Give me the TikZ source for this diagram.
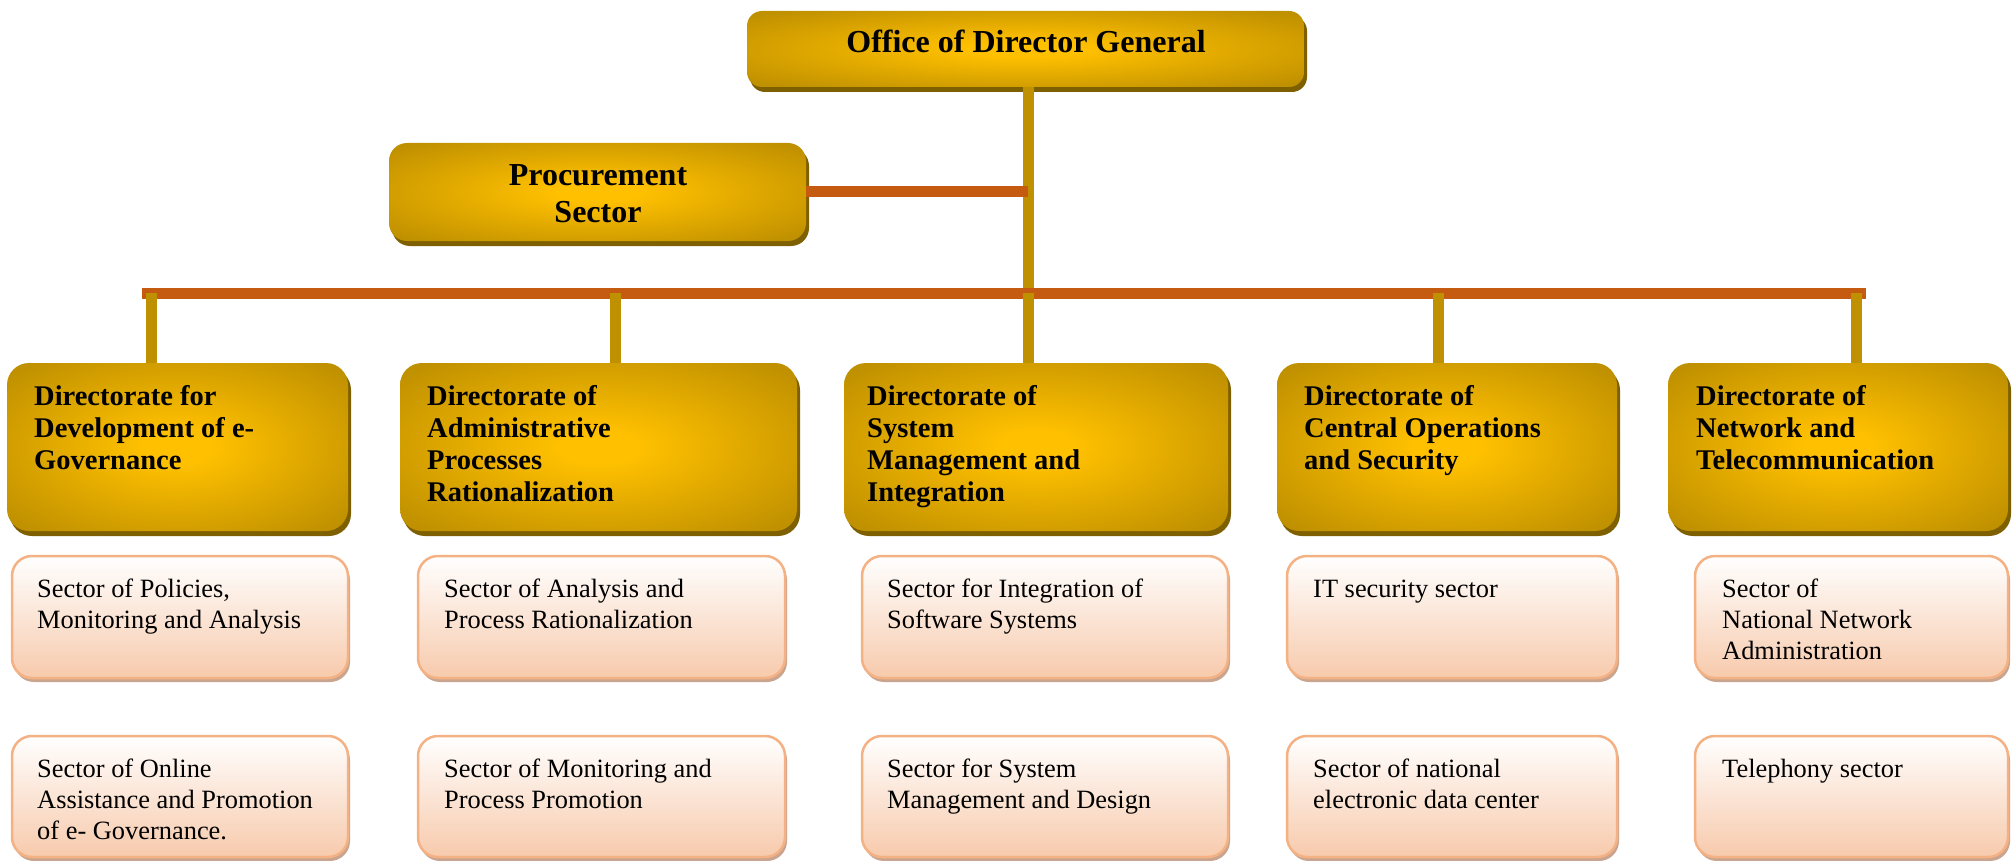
\documentclass[tikz,border=0pt]{standalone}
\usepackage{fontspec}
\setmainfont{Liberation Serif}
\usetikzlibrary{shadows}
\definecolor{goldC}{HTML}{FFC000}
\definecolor{goldE}{HTML}{BF9000}
\definecolor{goldS}{HTML}{7F6000}
\definecolor{busO}{HTML}{C55A11}
\definecolor{lineG}{HTML}{BF9000}
\definecolor{peachB}{HTML}{F4B183}
\definecolor{peachF}{HTML}{F7CAAC}
\definecolor{peachS}{HTML}{C9A48E}
\pgfdeclareradialshading{goldrad}{\pgfpoint{0bp}{0bp}}{color(0bp)=(goldC);color(5bp)=(goldC);color(33bp)=(goldE);color(100bp)=(goldE)}
\begin{document}
\begin{tikzpicture}[x=1pt,y=-1pt,
  goldbox/.style={shading=goldrad, rounded corners=#1, draw=none, inner sep=0pt, outer sep=0pt, anchor=north west,
    drop shadow={shadow xshift=3pt, shadow yshift=-5pt, fill=goldS, opacity=1}},
  goldbox/.default=22pt,
  secbox/.style={shading=axis, top color=white, bottom color=peachF, draw=peachB, line width=2.5pt,
    rounded corners=20pt, inner sep=0pt, outer sep=0pt, anchor=north west,
    drop shadow={shadow xshift=2pt, shadow yshift=-4pt, fill=peachS, opacity=1}},
  dtext/.style={anchor=north west, inner sep=0pt, align=left, font=\bfseries\fontsize{28.5}{32}\selectfont},
  stext/.style={anchor=north west, inner sep=0pt, align=left, font=\fontsize{26.4}{31}\selectfont},
  htext/.style={inner sep=0pt, align=center, font=\bfseries\fontsize{32}{37}\selectfont},
  gline/.style={draw=lineG, line width=11pt},
  oline/.style={draw=busO, line width=11pt},
]
\fill[white] (0,0) rectangle (2012,861);
\useasboundingbox (0,0) rectangle (2012,861);

% top boxes
\node[goldbox=15pt, minimum width=557pt, minimum height=76pt] (dg) at (747,11) {};
\node[goldbox=18pt, minimum width=417pt, minimum height=98pt] (proc) at (389,143) {};

% directorates
\node[goldbox, minimum width=341pt, minimum height=168pt] (d1) at (7,363) {};
\node[goldbox, minimum width=397pt, minimum height=168pt] (d2) at (400,363) {};
\node[goldbox, minimum width=384pt, minimum height=168pt] (d3) at (844,363) {};
\node[goldbox, minimum width=340pt, minimum height=168pt] (d4) at (1277,363) {};
\node[goldbox, minimum width=340pt, minimum height=168pt] (d5) at (1668,363) {};

% sectors row 1
\node[secbox, minimum width=336pt, minimum height=122pt] (s1a) at (12,556) {};
\node[secbox, minimum width=367pt, minimum height=122pt] (s2a) at (418,556) {};
\node[secbox, minimum width=366pt, minimum height=122pt] (s3a) at (862,556) {};
\node[secbox, minimum width=330pt, minimum height=122pt] (s4a) at (1287,556) {};
\node[secbox, minimum width=313pt, minimum height=122pt] (s5a) at (1695,556) {};
% sectors row 2
\node[secbox, minimum width=336pt, minimum height=121pt] (s1b) at (12,736) {};
\node[secbox, minimum width=367pt, minimum height=121pt] (s2b) at (418,736) {};
\node[secbox, minimum width=366pt, minimum height=121pt] (s3b) at (862,736) {};
\node[secbox, minimum width=330pt, minimum height=121pt] (s4b) at (1287,736) {};
\node[secbox, minimum width=313pt, minimum height=121pt] (s5b) at (1695,736) {};

% connectors
\coordinate (hub) at (1028,293);
\coordinate (busL) at (142,293);
\coordinate (busR) at (1866,293);
\coordinate (t1) at (151,293);
\coordinate (t2) at (615,293);
\coordinate (t4) at (1438,293);
\coordinate (t5) at (1856,293);
\draw[gline] (dg.south -| hub) -- (d3.north -| hub);
\draw[oline] (proc.east) -- (proc.east -| hub);
\draw[oline] (busL) -- (busR);
\draw[gline] (hub) -- (d3.north -| hub);
\draw[gline] (t1) -- (t1 |- d1.north);
\draw[gline] (t2) -- (t2 |- d2.north);
\draw[gline] (t4) -- (t4 |- d4.north);
\draw[gline] (t5) -- (t5 |- d5.north);

% texts
\node[htext, anchor=base] (dgt) at (1026,53) {Office of Director General};
\node[htext, anchor=north] (proct) at (598,159) {\rule{0pt}{26pt}Procurement\\Sector};

\node[dtext] (d1t) at (34,383) {\rule{0pt}{22pt}Directorate for\\Development of e-\\Governance};
\node[dtext] (d2t) at (427,383) {\rule{0pt}{22pt}Directorate of\\Administrative\\Processes\\Rationalization};
\node[dtext] (d3t) at (867,383) {\rule{0pt}{22pt}Directorate of\\System\\Management and\\Integration};
\node[dtext] (d4t) at (1304,383) {\rule{0pt}{22pt}Directorate of\\Central Operations\\and Security};
\node[dtext] (d5t) at (1696,383) {\rule{0pt}{22pt}Directorate of\\Network and\\Telecommunication};

\node[stext] (s1at) at (37,576) {\rule{0pt}{21pt}Sector of Policies,\\Monitoring and Analysis};
\node[stext] (s2at) at (444,576) {\rule{0pt}{21pt}Sector of Analysis and\\Process Rationalization};
\node[stext] (s3at) at (887,576) {\rule{0pt}{21pt}Sector for Integration of\\Software Systems};
\node[stext] (s4at) at (1313,576) {\rule{0pt}{21pt}IT security sector};
\node[stext] (s5at) at (1722,576) {\rule{0pt}{21pt}Sector of\\National Network\\Administration};

\node[stext] (s1bt) at (37,756) {\rule{0pt}{21pt}Sector of Online\\Assistance and Promotion\\of e- Governance.};
\node[stext] (s2bt) at (444,756) {\rule{0pt}{21pt}Sector of Monitoring and\\Process Promotion};
\node[stext] (s3bt) at (887,756) {\rule{0pt}{21pt}Sector for System\\Management and Design};
\node[stext] (s4bt) at (1313,756) {\rule{0pt}{21pt}Sector of national\\electronic data center};
\node[stext] (s5bt) at (1722,756) {\rule{0pt}{21pt}Telephony sector};
\end{tikzpicture}
\end{document}
